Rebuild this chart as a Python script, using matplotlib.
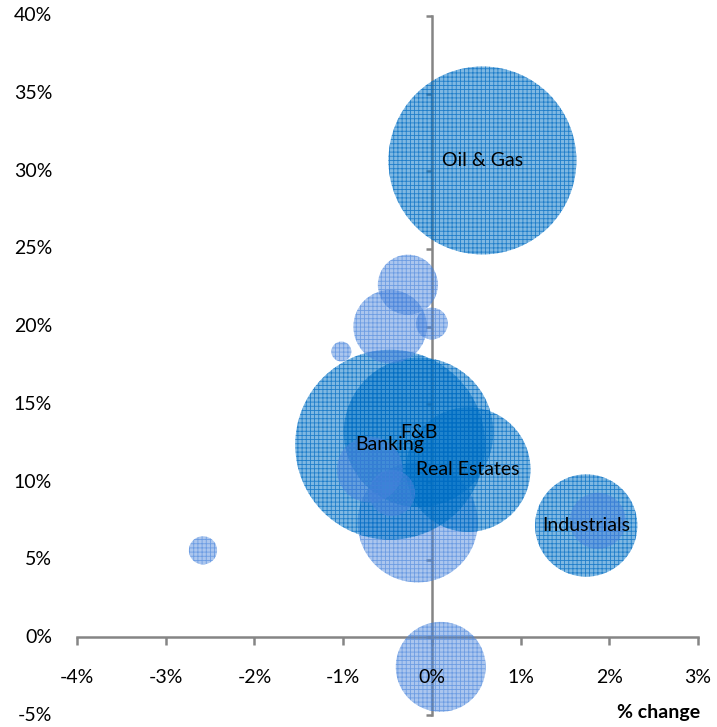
import matplotlib
matplotlib.use("Agg")
import matplotlib.pyplot as plt

plt.rcParams['font.family'] = ['Lato', 'DejaVu Sans']
plt.rcParams['hatch.linewidth'] = 0.6

# labelled sectors (x = % change, y = %, size = relative weight)
sectors = ["Oil & Gas", "Banking", "F&B", "Real Estates", "Industrials"]
sec_x = [0.57, -0.47, -0.15, 0.41, 1.74]
sec_y = [30.7, 12.4, 13.2, 10.8, 7.2]
sec_size = [98, 100, 62, 43, 29]

# unlabelled stocks
oth_x = [-0.16, 0.10, -0.27, -0.47, 0.0, -1.02, -2.58, 1.87, -0.45, -0.70]
oth_y = [7.4, -1.9, 22.7, 20.0, 20.2, 18.4, 5.6, 7.5, 9.3, 10.8]
oth_size = [40, 22.4, 10, 15, 2.8, 1.1, 2.2, 8.7, 5.9, 12]
n_behind = 2  # the first ones sit behind the sector bubbles

xticks = [-4, -3, -2, -1, 0, 1, 2, 3]
yticks = [-5, 0, 5, 10, 15, 20, 25, 30, 35, 40]

scale = 187.0  # points^2 per size unit
dark_face = (0.0, 0.45, 0.78, 0.5)
dark_hatch = (0.0, 0.42, 0.76, 0.75)
light_face = (0.27, 0.51, 0.86, 0.45)
light_hatch = (0.27, 0.51, 0.86, 0.6)

fig = plt.figure(figsize=(7.17, 7.27), dpi=100)
ax = fig.add_axes([0.1074, 0.0165, 0.8661, 0.9615])

ax.scatter(oth_x[:n_behind], oth_y[:n_behind], s=[v * scale for v in oth_size[:n_behind]],
           facecolors=[light_face], edgecolors=[light_hatch], linewidths=0,
           hatch='++++', zorder=2)
ax.scatter(sec_x, sec_y, s=[v * scale for v in sec_size], facecolors=[dark_face],
           edgecolors=[dark_hatch], linewidths=0, hatch='++++', zorder=3)
ax.scatter(oth_x[n_behind:], oth_y[n_behind:], s=[v * scale for v in oth_size[n_behind:]],
           facecolors=[light_face], edgecolors=[light_hatch], linewidths=0,
           hatch='++++', zorder=4)

for name, x, y in zip(sectors, sec_x, sec_y):
    ax.text(x, y, name, ha='center', va='center', fontsize=14, color='black', zorder=5)

ax.set_xlim(-4, 3)
ax.set_ylim(-5, 40)
for s in ['top', 'right']:
    ax.spines[s].set_visible(False)
ax.spines['left'].set_position(('data', 0))
ax.spines['bottom'].set_position(('data', 0))
for s in ['left', 'bottom']:
    ax.spines[s].set_color('#858585')
    ax.spines[s].set_linewidth(1.8)
    ax.spines[s].set_zorder(1)

ax.set_xticks(xticks)
ax.set_yticks(yticks)
ax.tick_params(axis='x', direction='out', length=6, width=1.8, color='#858585',
               labelbottom=False)
ax.tick_params(axis='y', direction='out', length=4, width=1.8, color='#858585',
               labelleft=False)

for v in yticks:
    ax.text(-0.04, v, "%d%%" % v, transform=ax.get_yaxis_transform(),
            ha='right', va='center', fontsize=14)
for v in xticks:
    ax.text(v, 0.054, "%d%%" % v, transform=ax.get_xaxis_transform(),
            ha='center', va='center', fontsize=14)
ax.text(1.003, 0.003, "% change", transform=ax.transAxes, ha='right', va='center',
        fontsize=14, fontweight='bold')

fig.savefig("out.png", dpi=100)
